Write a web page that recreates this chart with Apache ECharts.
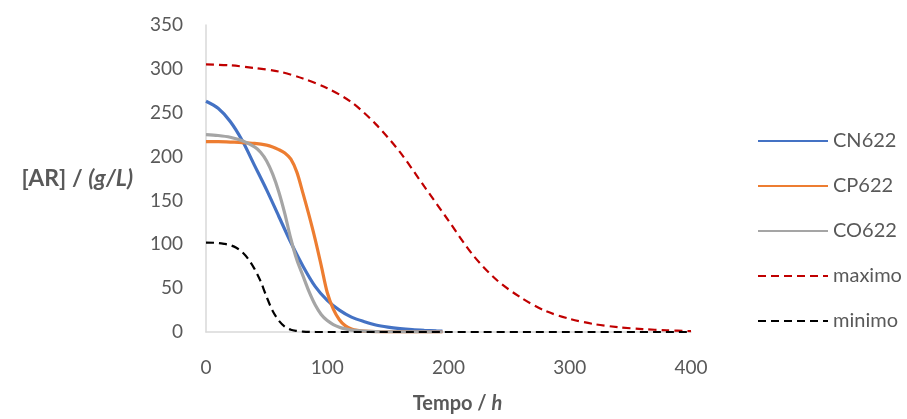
<!DOCTYPE html>
<html>
<head>
<meta charset="utf-8">
<script src="https://cdn.jsdelivr.net/npm/echarts@6/dist/echarts.min.js"></script>
<style>html,body{margin:0;padding:0;background:#fff}#c{width:907px;height:419px}</style>
</head>
<body>
<div id="c"></div>
<script>
var seriesNames = ['CN622', 'CP622', 'CO622', 'maximo', 'minimo'];
var xTicks = [0, 100, 200, 300, 400];
var yTicks = [0, 50, 100, 150, 200, 250, 300, 350];

var cnT = [0,10,20,30,40,50,60,70,80,90,100,110,120,130,140,150,160,170,180,190,195];
var cnV = [263,255,240,218,190,162,132,102,75,52,36,25,17,12,8,5.5,3.8,2.6,1.8,1.2,1];

var cpT = [0,10,20,30,40,50,55,60,65,70,75,80,85,90,95,100,105,110,115,120,125,130,140,150,160,170,180,195];
var cpV = [217,217,216.5,216,215,213,211,208,204,197,182,158,133,106,76,45,26,14,7,3.5,1.8,1,0.4,0.2,0.1,0,0,0];

var coT = [0,10,20,30,40,45,50,55,60,65,70,75,80,85,90,95,100,105,110,115,120,130,140,150,170,195];
var coV = [225,224,222,218,211,205,195,180,160,135,106,82,64,46,31,20,13,8.5,5.5,3.5,2.2,1,0.5,0.3,0.1,0];

var maxT = [0,20,40,60,80,100,120,140,160,180,200,220,240,260,280,300,320,340,360,380,400];
var maxV = [305,304,301,297,289,278,262,237,205,166,127,88,59,39,24,15,9,5.5,3.3,2,1];

var minT = [0,10,15,20,25,30,35,40,45,50,55,60,65,70,75,80,90,100,200,300,400];
var minV = [102,101.5,100.5,99,96,91,83,72,58,40,24,13,6,2.5,1.2,0.5,0.1,0,0,0,0];

function pairs(t, v) { return t.map(function (x, i) { return [x, v[i]]; }); }

var colors = ['#4472C4', '#ED7D31', '#A5A5A5', '#C00000', '#000000'];
var dataSets = [pairs(cnT, cnV), pairs(cpT, cpV), pairs(coT, coV), pairs(maxT, maxV), pairs(minT, minV)];
var dashed = [false, false, false, true, true];

var chart = echarts.init(document.getElementById('c'), null, {renderer: 'canvas'});
var txt = '#595959';
var font = 'Lato, "Open Sans", sans-serif';

chart.setOption({
  animation: false,
  backgroundColor: '#fff',
  textStyle: {fontFamily: font},
  grid: {left: 206, right: 216, top: 25, bottom: 81, containLabel: false},
  legend: {
    orient: 'vertical',
    left: 752, top: 126,
    itemWidth: 70, itemHeight: 20, itemGap: 25,
    itemStyle: {opacity: 0},
    textStyle: {color: txt, fontSize: 20, lineHeight: 20, fontFamily: font},
    data: seriesNames
  },
  xAxis: {
    type: 'value', min: xTicks[0], max: xTicks[xTicks.length - 1], interval: 100,
    axisLine: {show: true, onZero: false, lineStyle: {color: '#d9d9d9', width: 1.5}},
    axisTick: {show: false},
    splitLine: {show: false},
    axisLabel: {color: txt, fontSize: 19, margin: 26, fontFamily: font},
    name: '{b|Tempo / }{bi|h}',
    nameLocation: 'middle', nameGap: 62,
    nameTextStyle: {padding: [0, 0, 0, 18], rich: {
      b: {fontWeight: 'bold', fontSize: 20, color: txt, fontFamily: font},
      bi: {fontWeight: 'bold', fontStyle: 'italic', fontSize: 20, color: txt, fontFamily: font}
    }}
  },
  yAxis: {
    type: 'value', min: yTicks[0], max: yTicks[yTicks.length - 1], interval: 50,
    axisLine: {show: true, lineStyle: {color: '#d9d9d9', width: 1.5}},
    axisTick: {show: false},
    splitLine: {show: false},
    axisLabel: {color: txt, fontSize: 19, margin: 23, fontFamily: font},
    name: '{b|[AR] / }{bi|(g/L)}',
    nameLocation: 'middle', nameRotate: 0, nameGap: 73,
    nameTextStyle: {rich: {
      b: {fontWeight: 'bold', fontSize: 23, color: txt, fontFamily: font},
      bi: {fontWeight: 'bold', fontStyle: 'italic', fontSize: 23, color: txt, fontFamily: font}
    }}
  },
  series: seriesNames.map(function (n, i) {
    return {
      name: n, type: 'line', data: dataSets[i], smooth: 0.3,
      symbol: 'none', showSymbol: false,
      z: dashed[i] ? 3 : 2,
      color: colors[i],
      lineStyle: {color: colors[i], width: dashed[i] ? 2.2 : 3.2, type: dashed[i] ? [8, 5] : 'solid'},
      itemStyle: {color: colors[i]}
    };
  })
});
</script>
</body>
</html>
